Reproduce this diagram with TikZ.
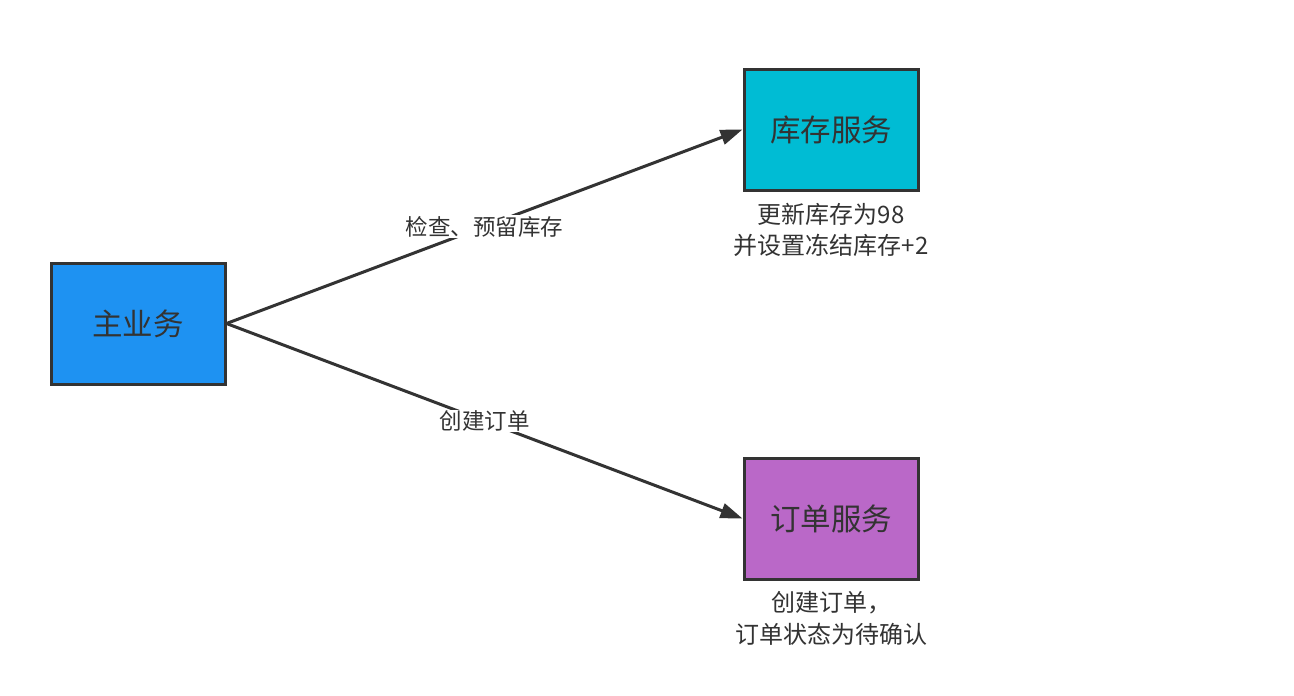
\documentclass[tikz,border=0pt]{standalone}
\usepackage{fontspec}
\setmainfont{Noto Sans CJK SC}
\usetikzlibrary{arrows.meta}
\definecolor{ink}{HTML}{333333}
\definecolor{mainblue}{RGB}{30,146,242}
\definecolor{stockcyan}{HTML}{00BCD4}
\definecolor{orderpurple}{HTML}{BA68C8}
\tikzset{
  x=1pt,y=1pt,
  svcbox/.style={draw=ink,line width=3pt,minimum width=174pt,minimum height=121pt,inner sep=0pt,text=ink,font=\fontsize{30.5}{36}\selectfont},
  conn/.style={draw=ink,line width=3pt,-{Triangle[length=22pt,width=15pt]}},
  elabel/.style={fill=white,text=ink,font=\fontsize{22.5}{27}\selectfont,inner sep=1pt},
  note/.style={text=ink,font=\fontsize{24}{31.5}\selectfont,align=center,inner sep=0pt}
}
\begin{document}
\begin{tikzpicture}
\useasboundingbox (0,0) rectangle (1294,-696);
\fill[white] (0,0) rectangle (1294,-696);
\node[svcbox,fill=mainblue] (main) at (138,-323.5) {主业务};
\node[svcbox,fill=stockcyan] (stock) at (831,-129.5) {库存服务};
\node[svcbox,fill=orderpurple] (order) at (831,-518.5) {订单服务};
\draw[conn] (main.east) -- (stock.west) node[elabel,midway] (l1) {检查、预留库存};
\draw[conn] (main.east) -- (order.west) node[elabel,midway] (l2) {创建订单};
\node[note] (n1) at (831,-230) {更新库存为98\\并设置冻结库存+2};
\node[note] (n2) at (831,-618.5) {创建订单，\\订单状态为待确认};
\end{tikzpicture}
\end{document}
